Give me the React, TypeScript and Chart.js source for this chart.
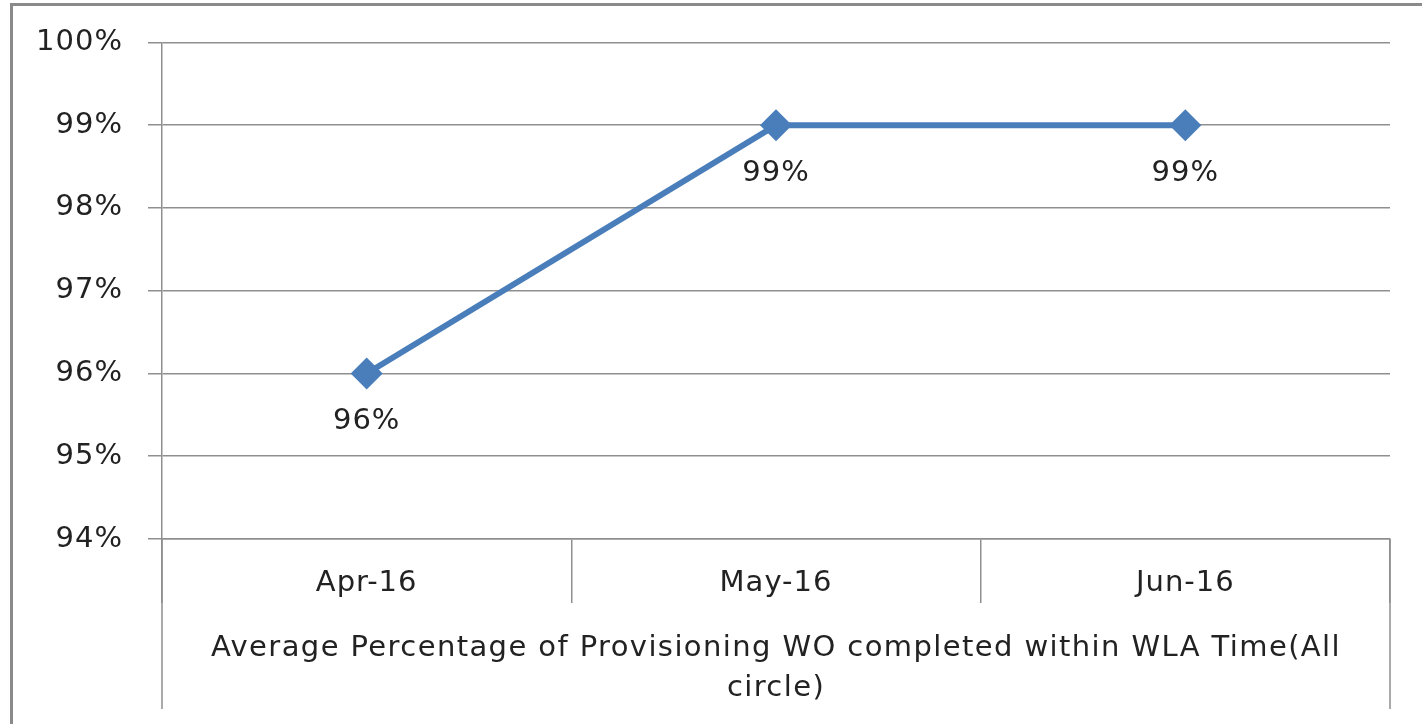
import React, { useEffect, useRef } from "react";
import { Chart, registerables } from "chart.js";

Chart.register(...registerables);

const categories = ["Apr-16", "May-16", "Jun-16"];
const seriesValues = [0.96, 0.99, 0.99];
const yMin = 0.94;
const yMax = 1.0;
const yStep = 0.01;
const groupLabelLines = [
  "Average Percentage of Provisioning WO completed within WLA Time(All",
  "circle)",
];

const FONT_FAMILY = "'DejaVu Sans', sans-serif";
const FONT_SIZE = 29;
const LETTER_SPACING = "1px";
const GROUP_LETTER_SPACING = "1.4px";
const TEXT_COLOR = "#222222";
const GRID_COLOR = "#8f8f8f";
const LINE_COLOR = "#4a7ebb";

const fmtPct = (v: number) => `${Math.round(v * 100)}%`;

const framePlugin = {
  id: "frame",
  beforeDraw(chart: any) {
    const ctx = chart.ctx;
    ctx.save();
    ctx.fillStyle = "#ffffff";
    ctx.fillRect(0, 0, chart.width, chart.height);
    ctx.strokeStyle = "#8a8a8a";
    ctx.lineWidth = 3;
    ctx.beginPath();
    ctx.moveTo(11.5, chart.height);
    ctx.lineTo(11.5, 4.5);
    ctx.lineTo(chart.width, 4.5);
    ctx.stroke();
    ctx.restore();
    (ctx as any).letterSpacing = LETTER_SPACING;
  },
};

const extrasPlugin = {
  id: "extras",
  afterDraw(chart: any) {
    const ctx = chart.ctx;
    const area = chart.chartArea;
    const bottomY = 709;
    ctx.save();
    ctx.strokeStyle = GRID_COLOR;
    ctx.lineWidth = 1.5;
    ctx.beginPath();
    ctx.moveTo(area.left, area.bottom);
    ctx.lineTo(area.left, bottomY);
    ctx.moveTo(area.right, area.bottom);
    ctx.lineTo(area.right, bottomY);
    ctx.stroke();

    ctx.fillStyle = TEXT_COLOR;
    ctx.font = `${FONT_SIZE}px ${FONT_FAMILY}`;
    ctx.textAlign = "center";
    ctx.textBaseline = "middle";
    (ctx as any).letterSpacing = GROUP_LETTER_SPACING;
    const cx = (area.left + area.right) / 2;
    groupLabelLines.forEach((line, i) => {
      ctx.fillText(line, cx, 648 + i * 40);
    });

    (ctx as any).letterSpacing = LETTER_SPACING;
    const meta = chart.getDatasetMeta(0);
    meta.data.forEach((pt: any, i: number) => {
      ctx.fillText(fmtPct(seriesValues[i]), pt.x, pt.y + 48);
    });
    ctx.restore();
  },
};

export default function App() {
  const ref = useRef<HTMLCanvasElement | null>(null);

  useEffect(() => {
    if (!ref.current) return;
    const font = { family: FONT_FAMILY, size: FONT_SIZE };
    const chart = new Chart(ref.current, {
      type: "line",
      data: {
        labels: categories,
        datasets: [
          {
            data: seriesValues,
            borderColor: LINE_COLOR,
            backgroundColor: LINE_COLOR,
            borderWidth: 6,
            pointStyle: "rectRot",
            pointRadius: 16,
            pointBorderWidth: 0,
            pointBackgroundColor: LINE_COLOR,
            tension: 0,
          },
        ],
      },
      options: {
        animation: false,
        responsive: false,
        events: [],
        layout: { padding: { left: 0, top: 42, right: 32, bottom: 0 } },
        plugins: {
          legend: { display: false },
          tooltip: { enabled: false },
          title: { display: false },
        },
        scales: {
          x: {
            type: "category",
            offset: true,
            grid: {
              offset: true,
              drawOnChartArea: false,
              drawTicks: true,
              tickLength: 64,
              color: GRID_COLOR,
              lineWidth: 1.5,
            },
            border: { display: true, color: GRID_COLOR, width: 1.5 },
            ticks: {
              font,
              color: TEXT_COLOR,
              padding: -37,
              maxRotation: 0,
              autoSkip: false,
            },
            afterFit: (s: any) => {
              s.height = 185;
            },
          },
          y: {
            min: yMin,
            max: yMax,
            grid: {
              color: GRID_COLOR,
              lineWidth: 1.5,
              tickLength: 14,
            },
            border: { display: true, color: GRID_COLOR, width: 1.5 },
            ticks: {
              stepSize: yStep,
              font,
              color: TEXT_COLOR,
              padding: 25,
              callback: (v: any) => fmtPct(Number(v)),
            },
            afterFit: (s: any) => {
              s.width = 162;
            },
          },
        },
      },
      plugins: [framePlugin, extrasPlugin],
    });
    return () => chart.destroy();
  }, []);

  return (
    <div style={{ position: "fixed", left: 0, top: 0, width: 1422, height: 724, background: "#fff" }}>
      <canvas ref={ref} width={1422} height={724} style={{ display: "block" }} />
    </div>
  );
}
